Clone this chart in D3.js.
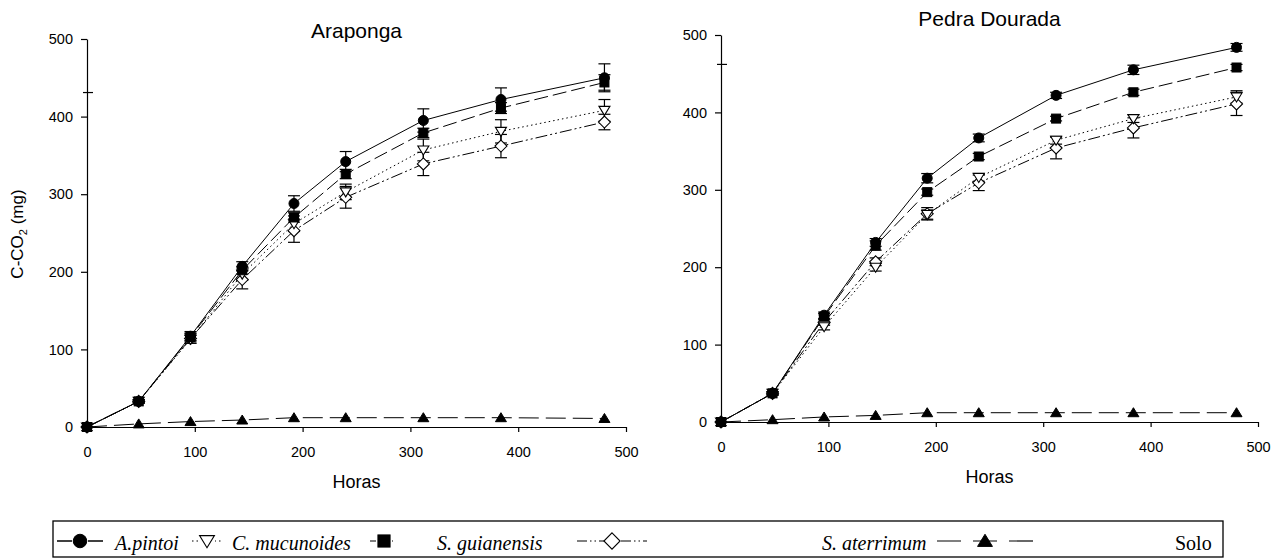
<!DOCTYPE html>
<html>
<head>
<meta charset="utf-8">
<script src="https://cdn.jsdelivr.net/npm/d3@7/dist/d3.min.js"></script>
<style>
body { margin: 0; background: #fff; }
svg text { font-family: Arial, "Liberation Sans", sans-serif; fill: #000; }
</style>
</head>
<body>
<div id="chart"></div>
<script>
// sampling times (hours)
const hours = [0, 48, 96, 144, 192, 240, 312, 384, 480]
const xTicks = [0, 100, 200, 300, 400, 500]
const yTicks = [0, 100, 200, 300, 400, 500]

const seriesNames = ['A.pintoi', 'C. mucunoides', 'S. guianensis', 'S. aterrimum', 'Solo']

// Araponga
const araPintoi = [0, 33, 117, 207, 288, 342, 395, 422, 450]
const araMucunoides = [0, 33, 113, 197, 262, 303, 357, 381, 408]
const araGuianensis = [0, 33, 116, 202, 270, 326, 379, 411, 444]
const araAterrimum = [0, 33, 114, 190, 253, 296, 339, 362, 393]
const araSolo = [0, 4, 7, 9, 12, 12, 12, 12, 11]
const araPintoiErr = [0, 2, 6, 6, 10, 13, 15, 15, 18]
const araMucunoidesErr = [0, 2, 5, 8, 10, 10, 14, 15, 14]
const araGuianensisErr = [0, 2, 5, 5, 6, 6, 6, 7, 10]
const araAterrimumErr = [0, 2, 6, 12, 15, 14, 15, 15, 10]

// Pedra Dourada
const pedPintoi = [0, 37, 138, 232, 315, 367, 422, 455, 484]
const pedMucunoides = [0, 37, 123, 200, 268, 316, 364, 392, 420]
const pedGuianensis = [0, 37, 136, 228, 297, 343, 392, 426, 458]
const pedAterrimum = [0, 37, 129, 207, 269, 309, 354, 380, 411]
const pedSolo = [0, 3, 6.5, 8.5, 12, 12, 12, 12, 12]
const pedPintoiErr = [0, 2, 4, 5, 6, 5, 4, 6, 5]
const pedMucunoidesErr = [0, 2, 4, 5, 6, 5, 5, 5, 8]
const pedGuianensisErr = [0, 2, 4, 6, 4, 4, 3, 4, 4]
const pedAterrimumErr = [0, 2, 4, 5, 8, 10, 14, 13, 15]

// odd crossing mark on each y axis
const axisMarks = [431, 462]

const styles = [
  { shape: 'circle', fill: '#000', dash: null },
  { shape: 'triDown', fill: '#fff', dash: '1.5,3' },
  { shape: 'square', fill: '#000', dash: '14,5' },
  { shape: 'diamond', fill: '#fff', dash: '12,3,2,3,2,3' },
  { shape: 'triUp', fill: '#000', dash: '20,7' }
]

const noErr = hours.map(() => 0)

const panels = [
  { title: 'Araponga', x0: 87, x1: 626, y0: 427, y1: 39, titleY: 38, mark: axisMarks[0],
    means: [araPintoi, araMucunoides, araGuianensis, araAterrimum, araSolo],
    errs: [araPintoiErr, araMucunoidesErr, araGuianensisErr, araAterrimumErr, noErr] },
  { title: 'Pedra Dourada', x0: 721, x1: 1258, y0: 422, y1: 35, titleY: 26, mark: axisMarks[1],
    means: [pedPintoi, pedMucunoides, pedGuianensis, pedAterrimum, pedSolo],
    errs: [pedPintoiErr, pedMucunoidesErr, pedGuianensisErr, pedAterrimumErr, noErr] }
]

let svg = d3.select('#chart').append('svg')
  .attr('width', 1286)
  .attr('height', 559)

function drawMarker(g, shape, cx, cy, fill, size) {
  let s = size || 1
  if (shape == 'circle') {
    g.append('circle').attr('cx', cx).attr('cy', cy).attr('r', 5 * s)
      .attr('fill', fill).attr('stroke', '#000').attr('stroke-width', 1)
  } else if (shape == 'square') {
    g.append('rect').attr('x', cx - 4.5 * s).attr('y', cy - 4.5 * s)
      .attr('width', 9 * s).attr('height', 9 * s)
      .attr('fill', fill).attr('stroke', '#000').attr('stroke-width', 1)
  } else if (shape == 'diamond') {
    let r = 6 * s
    g.append('path')
      .attr('d', `M${cx},${cy - r}L${cx + r},${cy}L${cx},${cy + r}L${cx - r},${cy}Z`)
      .attr('fill', fill).attr('stroke', '#000').attr('stroke-width', 1.1)
  } else if (shape == 'triDown') {
    let w = 5.5 * s
    g.append('path')
      .attr('d', `M${cx - w},${cy - 4 * s}L${cx + w},${cy - 4 * s}L${cx},${cy + 5 * s}Z`)
      .attr('fill', fill).attr('stroke', '#000').attr('stroke-width', 1.1)
  } else if (shape == 'triUp') {
    let w = 5.5 * s
    g.append('path')
      .attr('d', `M${cx - w},${cy + 4 * s}L${cx + w},${cy + 4 * s}L${cx},${cy - 5 * s}Z`)
      .attr('fill', fill).attr('stroke', '#000').attr('stroke-width', 1)
  }
}

panels.forEach(p => {
  let x = d3.scaleLinear().domain([0, 500]).range([p.x0, p.x1])
  let y = d3.scaleLinear().domain([0, 500]).range([p.y0, p.y1])
  let g = svg.append('g')

  // axes
  g.append('g')
    .attr('transform', `translate(${p.x0},0)`)
    .call(d3.axisLeft(y).tickValues(yTicks).tickSize(6).tickSizeOuter(0).tickPadding(8))
  g.append('g')
    .attr('transform', `translate(0,${p.y0})`)
    .call(d3.axisBottom(x).tickValues(xTicks).tickSize(5).tickSizeOuter(0).tickPadding(15))
  g.selectAll('.tick text').style('font-size', '14.5px').style('font-family', 'Arial, "Liberation Sans", sans-serif')
  g.selectAll('.domain, .tick line').attr('stroke', '#000').attr('stroke-width', 1.2)

  g.append('line')
    .attr('x1', p.x0 - 4).attr('x2', p.x0 + 6)
    .attr('y1', y(p.mark)).attr('y2', y(p.mark))
    .attr('stroke', '#000').attr('stroke-width', 1.2)

  // title and axis label
  g.append('text')
    .attr('x', (p.x0 + p.x1) / 2).attr('y', p.titleY)
    .attr('text-anchor', 'middle').style('font-size', '21px')
    .text(p.title)
  g.append('text')
    .attr('x', (p.x0 + p.x1) / 2).attr('y', p.y0 + 61)
    .attr('text-anchor', 'middle').style('font-size', '18px')
    .text('Horas')

  let line = d3.line().x(d => x(d[0])).y(d => y(d[1]))

  p.means.forEach((vals, i) => {
    let pts = hours.map((h, k) => [h, vals[k]])
    g.append('path')
      .attr('d', line(pts))
      .attr('fill', 'none')
      .attr('stroke', '#000')
      .attr('stroke-width', 1)
      .attr('stroke-dasharray', styles[i].dash)
  })

  // error bars
  p.means.forEach((vals, i) => {
    hours.forEach((h, k) => {
      let e = p.errs[i][k]
      if (!e) return
      let cx = x(h)
      let eg = g.append('g').attr('stroke', '#000').attr('stroke-width', 1.2)
      eg.append('line').attr('x1', cx).attr('x2', cx).attr('y1', y(vals[k] - e)).attr('y2', y(vals[k] + e))
      eg.append('line').attr('x1', cx - 6).attr('x2', cx + 6).attr('y1', y(vals[k] - e)).attr('y2', y(vals[k] - e))
      eg.append('line').attr('x1', cx - 6).attr('x2', cx + 6).attr('y1', y(vals[k] + e)).attr('y2', y(vals[k] + e))
    })
  })

  // markers, bottom series first
  ;[4, 3, 1, 2, 0].forEach(i => {
    hours.forEach((h, k) => {
      drawMarker(g, styles[i].shape, x(h), y(p.means[i][k]), styles[i].fill)
    })
  })
})

// y axis label
let yl = svg.append('text')
  .attr('transform', 'translate(23,234) rotate(-90)')
  .attr('text-anchor', 'middle')
  .style('font-size', '17px')
yl.append('tspan').text('C-CO')
yl.append('tspan').attr('dy', 4).style('font-size', '11px').text('2')
yl.append('tspan').attr('dy', -4).text(' (mg)')

// legend
const legendSamples = [80, 207, 384, 612, 985]
const legendLabels = [115, 232, 437, 822, 1175]
const legY = 541

let leg = svg.append('g')
leg.append('rect')
  .attr('x', 53).attr('y', 521).attr('width', 1170).attr('height', 36)
  .attr('fill', 'none').attr('stroke', '#000').attr('stroke-width', 1.3)

const sampleHalf = [23, 15, 14, 35, 48]
seriesNames.forEach((name, i) => {
  let cx = legendSamples[i]
  let hw = sampleHalf[i]
  leg.append('line')
    .attr('x1', cx - hw).attr('x2', cx + hw)
    .attr('y1', legY).attr('y2', legY)
    .attr('stroke', '#000').attr('stroke-width', i == 0 ? 1.6 : 1.2)
    .attr('stroke-dasharray', i == 0 ? null : i == 1 ? '1.5,3' : i == 2 ? '9,5' : i == 3 ? '10,3,1.5,3,1.5,3' : '24,12')
  leg.append('rect')
    .attr('x', cx - 8).attr('y', legY - 8).attr('width', 16).attr('height', 16)
    .attr('fill', '#fff').attr('opacity', i == 4 ? 0 : 1)
  drawMarker(leg, styles[i].shape, cx, legY, styles[i].fill, 1.35)
  leg.append('text')
    .attr('x', legendLabels[i]).attr('y', 550)
    .style('font-family', '"Liberation Serif", "Times New Roman", serif')
    .style('font-style', i == 4 ? 'normal' : 'italic')
    .style('font-size', '20px')
    .text(name)
})
</script>
</body>
</html>
